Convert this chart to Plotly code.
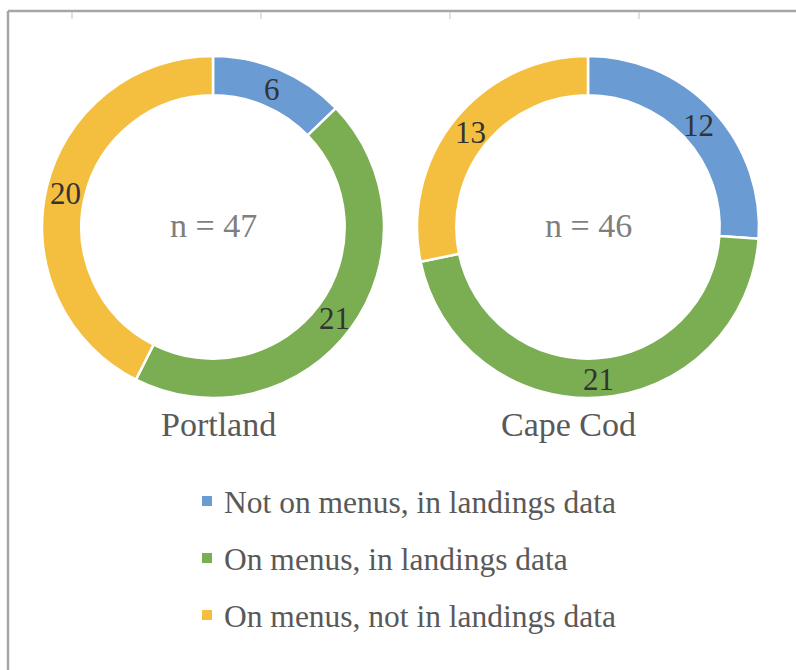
import math
import plotly.graph_objects as go

# Seafood species counts by menu / landings status
categories = ["Not on menus, in landings data",
              "On menus, in landings data",
              "On menus, not in landings data"]
portland = [6, 21, 20]
cape_cod = [12, 21, 13]
places = ["Portland", "Cape Cod"]
colors = ["#6a9bd3", "#7bad52", "#f4be3f"]

W, H = 796, 670
FONT = "Liberation Serif, Times New Roman, serif"


def px(x):
    return x / W


def py(y):
    return 1 - y / H


fig = go.Figure()

centers = [(213, 227), (588, 227)]
R = 171
HOLE = 0.77
for values, (cx, cy), name in zip([portland, cape_cod], centers, places):
    fig.add_trace(go.Pie(
        labels=categories,
        values=values,
        name=name,
        hole=HOLE,
        sort=False,
        direction="clockwise",
        rotation=0,
        marker=dict(colors=colors, line=dict(color="white", width=2.5)),
        textinfo="none",
        domain=dict(x=[px(cx - R), px(cx + R)], y=[py(cy + R), py(cy - R)]),
        showlegend=False,
        hoverinfo="label+value",
    ))
    # value labels centred in the ring at each slice's mid-angle
    total = sum(values)
    rmid = R * (1 + HOLE) / 2
    start = 0
    for v in values:
        ang = math.radians((start + v / 2) / total * 360)
        start += v
        lx = cx + rmid * math.sin(ang)
        ly = cy - rmid * math.cos(ang)
        fig.add_annotation(x=px(lx), y=py(ly + 1.5), xref="paper", yref="paper",
                           text=str(v), showarrow=False,
                           xanchor="center", yanchor="middle",
                           font=dict(family=FONT, size=31, color="#333333"))
    # sample size in the hole
    fig.add_annotation(x=px(cx), y=py(cy - 1.5), xref="paper", yref="paper",
                       text=f"n = {total}", showarrow=False,
                       xanchor="center", yanchor="middle",
                       font=dict(family=FONT, size=34, color="#7f7f7f"))

# place names under each ring
for name, xc in zip(places, [218, 568]):
    fig.add_annotation(x=px(xc), y=py(424), xref="paper", yref="paper",
                       text=name, showarrow=False, xanchor="center", yanchor="middle",
                       font=dict(family=FONT, size=34, color="#595959"))

# legend rows
shapes = []
for i, (cat, col) in enumerate(zip(categories, colors)):
    yc = 501 + 57 * i
    shapes.append(dict(type="rect", xref="paper", yref="paper",
                       x0=px(202), x1=px(212), y0=py(yc + 5), y1=py(yc - 5),
                       fillcolor=col, line=dict(width=0)))
    fig.add_annotation(x=px(222), y=py(yc + 1), xref="paper", yref="paper",
                       text=cat, showarrow=False, xanchor="left", yanchor="middle",
                       font=dict(family=FONT, size=31.5, color="#595959"))

# chart frame (left and top edges) with faint tick marks
shapes.append(dict(type="line", xref="paper", yref="paper",
                   x0=px(8), x1=px(8), y0=0, y1=py(11),
                   line=dict(color="#a6a6a6", width=2.5)))
shapes.append(dict(type="line", xref="paper", yref="paper",
                   x0=px(8), x1=1, y0=py(11), y1=py(11),
                   line=dict(color="#a6a6a6", width=2.5)))
for tx in [72, 261, 450, 639]:
    shapes.append(dict(type="line", xref="paper", yref="paper",
                       x0=px(tx), x1=px(tx), y0=py(12), y1=py(19),
                       line=dict(color="#d6d6d6", width=1.5)))

fig.update_layout(
    width=W, height=H,
    margin=dict(l=0, r=0, t=0, b=0),
    paper_bgcolor="white", plot_bgcolor="white",
    shapes=shapes,
    showlegend=False,
)

fig.write_html("out.html")
